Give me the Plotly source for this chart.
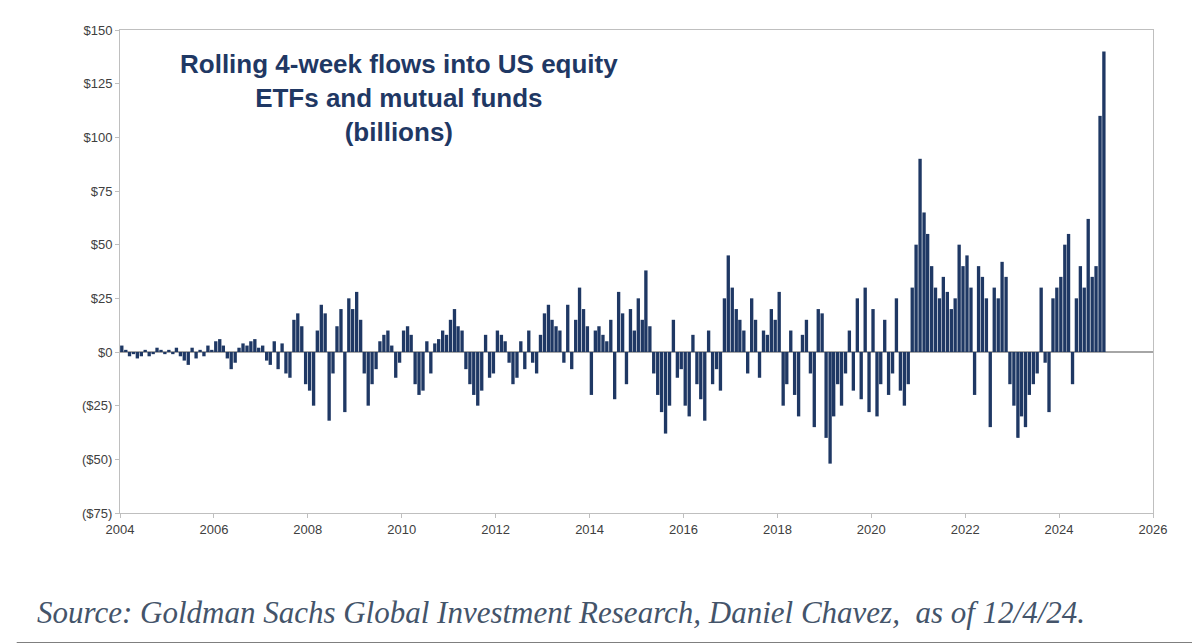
import plotly.graph_objects as go

years = list(range(2004, 2025))
flows = {
2004: [3,1,-2,-1,-3,-2,1,-2,-1,2,1,-1],
2005: [1,-1,2,-2,-4,-6,2,-3,1,-2,3,1],
2006: [5,6,3,-3,-8,-5,2,4,3,5,6,2],
2007: [3,-4,-6,5,-8,4,-10,-12,15,18,12,-15],
2008: [-18,-25,10,22,18,-32,-10,12,20,-28,25,20],
2009: [28,15,-10,-25,-15,-8,5,8,10,3,-12,-5],
2010: [10,12,8,-15,-20,-18,5,-10,4,6,10,8],
2011: [15,20,12,10,-8,-15,-20,-25,-18,8,-12,-10],
2012: [10,8,5,-5,-15,-12,5,-8,10,-5,-10,8],
2013: [18,22,15,12,10,-5,22,-8,15,30,20,12],
2014: [-20,10,12,8,5,15,-22,28,18,-15,20,10],
2015: [25,15,38,12,-10,-20,-28,-38,-25,15,-12,-8],
2016: [-25,-30,8,-15,-22,-32,10,-15,-8,-18,25,45],
2017: [30,20,15,10,-10,25,15,-12,10,8,20,15],
2018: [28,-25,-15,10,-20,-30,8,15,-10,-35,20,18],
2019: [-40,-52,-30,-15,-25,-10,10,-18,25,-22,30,-28],
2020: [20,-30,-15,15,-20,-10,25,-18,-25,-15,30,50],
2021: [90,65,55,40,30,25,35,28,20,25,50,40],
2022: [45,30,-20,40,35,25,-35,30,25,42,35,-15],
2023: [-25,-40,-30,-35,-20,-15,-10,30,-5,-28,25,30],
2024: [35,50,55,-15,25,40,30,62,35,40,110,140],
}
dates, vals = [], []
for y in years:
    for m, v in enumerate(flows[y]):
        dates.append(f"{y}-{m+1:02d}-15")
        vals.append(v)

tickvals = [150, 125, 100, 75, 50, 25, 0, -25, -50, -75]
ticktext = ["$150", "$125", "$100", "$75", "$50", "$25", "$0", "($25)", "($50)", "($75)"]
xticks = [f"{y}-01-01" for y in range(2004, 2027, 2)]
xtext = [str(y) for y in range(2004, 2027, 2)]

fig = go.Figure(go.Bar(x=dates, y=vals, marker=dict(color="#1f3864", line_width=0), width=86400000*26))
fig.update_layout(
    width=1200, height=643, margin=dict(l=112, r=55, t=22, b=138),
    paper_bgcolor="white", plot_bgcolor="white", showlegend=False,
    font=dict(family="Arial", size=13, color="#404040"),
    xaxis=dict(type="date", range=["2004-01-01", "2026-01-01"], tickvals=xticks, ticktext=xtext,
               showline=True, mirror=True, linecolor="#bfbfbf", showgrid=False, ticks="outside",
               tickcolor="#bfbfbf", ticklen=4),
    yaxis=dict(range=[-75, 150], tickvals=tickvals, ticktext=ticktext, showline=True, mirror=True,
               linecolor="#bfbfbf", showgrid=False, zeroline=True, zerolinecolor="#a6a6a6",
               zerolinewidth=1.5, ticks="outside", tickcolor="#bfbfbf", ticklen=4),
    annotations=[
        dict(text="<b>Rolling 4-week flows into US equity<br>ETFs and mutual funds<br>(billions)</b>",
             xref="paper", yref="paper", x=0.27, y=0.965, xanchor="center", yanchor="top",
             showarrow=False, font=dict(family="Arial", size=26, color="#1f3864"), align="center"),
        dict(text="<i>Source: Goldman Sachs Global Investment Research, Daniel Chavez,  as of 12/4/24.</i>",
             xref="paper", yref="paper", x=-0.082, y=-0.205, xanchor="left", yanchor="middle",
             showarrow=False, font=dict(family="Liberation Serif", size=31, color="#44546a")),
    ],
    shapes=[dict(type="line", xref="paper", yref="paper", x0=-0.1, x1=1.06, y0=-0.27, y1=-0.27,
                 line=dict(color="black", width=2))],
)
fig.write_html("out.html")
